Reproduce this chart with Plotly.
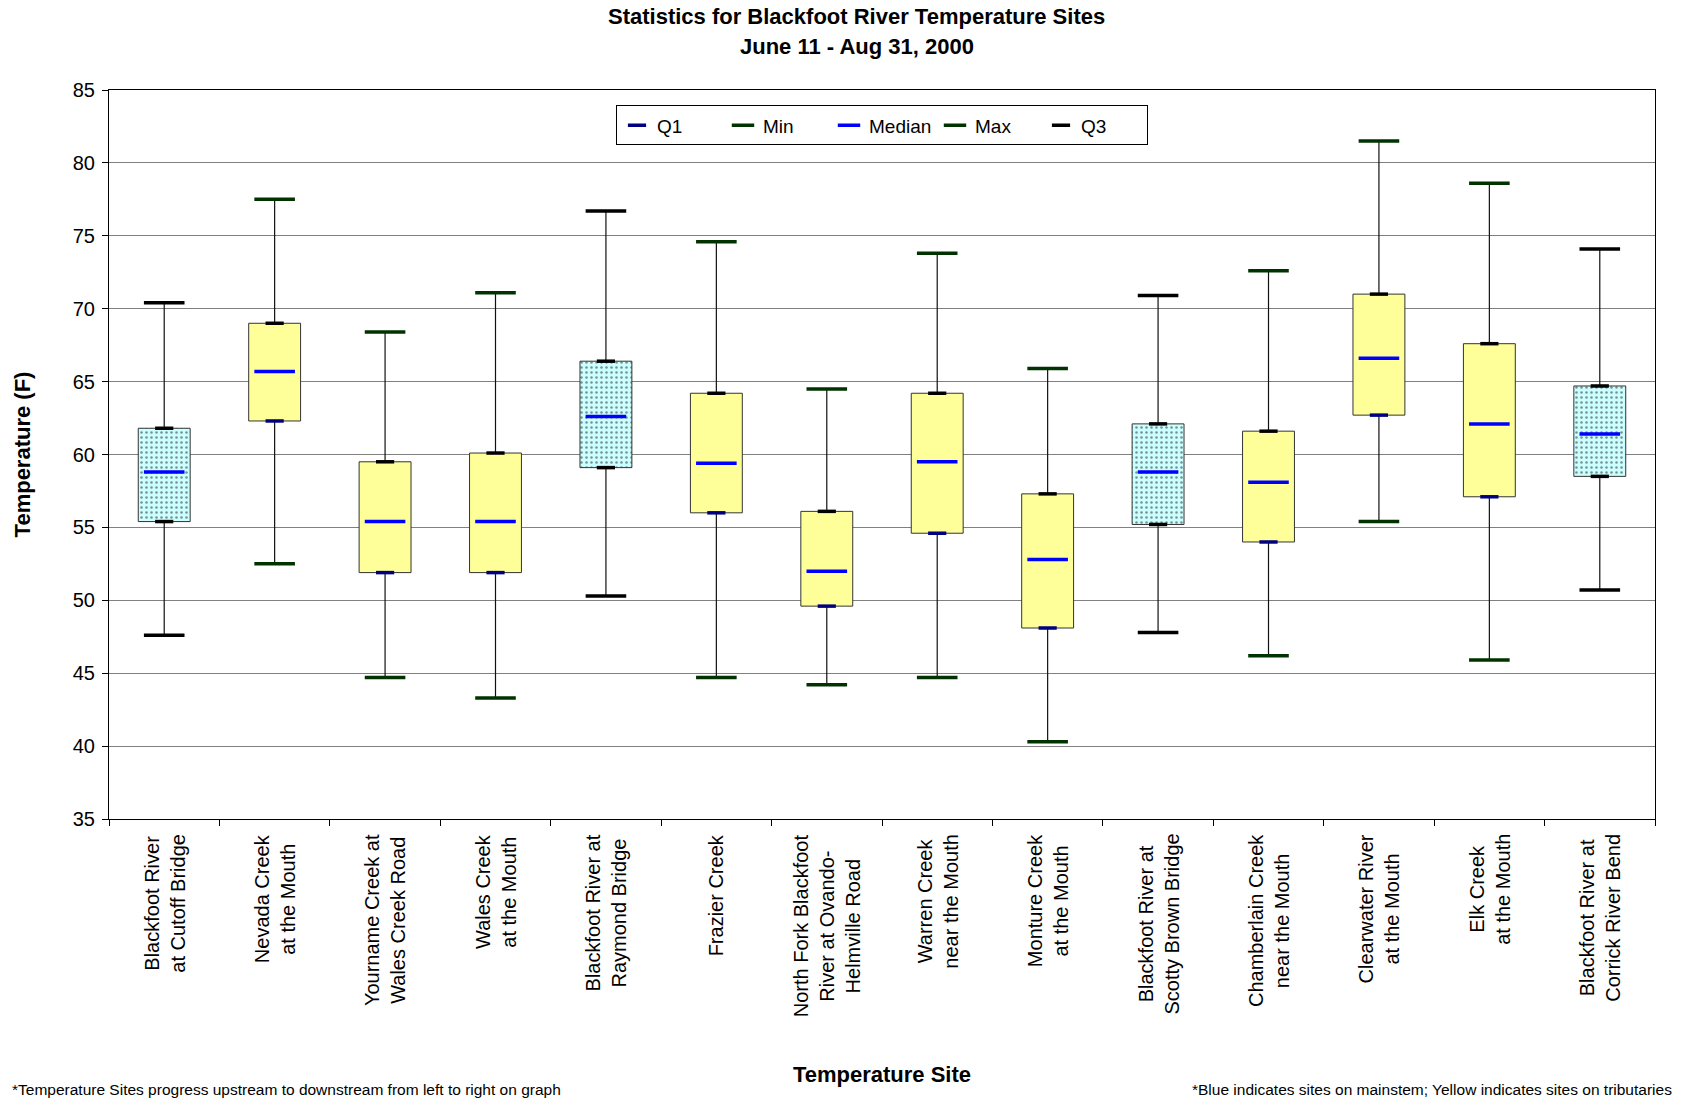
import plotly.graph_objects as go

# ---------------- data ----------------
sites = [
    "Blackfoot River<br>at Cutoff Bridge",
    "Nevada Creek<br>at the Mouth",
    "Yourname Creek at<br>Wales Creek Road",
    "Wales Creek<br>at the Mouth",
    "Blackfoot River at<br>Raymond Bridge",
    "Frazier Creek",
    "North Fork Blackfoot<br>River at Ovando-<br>Helmville Road",
    "Warren Creek<br>near the Mouth",
    "Monture Creek<br>at the Mouth",
    "Blackfoot River at<br>Scotty Brown Bridge",
    "Chamberlain Creek<br>near the Mouth",
    "Clearwater River<br>at the Mouth",
    "Elk Creek<br>at the Mouth",
    "Blackfoot River at<br>Corrick River Bend",
]
mainstem = [True, False, False, False, True, False, False, False, False, True, False, False, False, True]

q1_vals     = [55.4, 62.3, 51.9, 51.9, 59.1, 56.0, 49.6, 54.6, 48.1, 55.2, 54.0, 62.7, 57.1, 58.5]
min_vals    = [47.6, 52.5, 44.7, 43.3, 50.3, 44.7, 44.2, 44.7, 40.3, 47.8, 46.2, 55.4, 45.9, 50.7]
median_vals = [58.8, 65.7, 55.4, 55.4, 62.6, 59.4, 52.0, 59.5, 52.8, 58.8, 58.1, 66.6, 62.1, 61.4]
max_vals    = [70.4, 77.5, 68.4, 71.1, 76.7, 74.6, 64.5, 73.8, 65.9, 70.9, 72.6, 81.5, 78.6, 74.1]
q3_vals     = [61.8, 69.0, 59.5, 60.1, 66.4, 64.2, 56.1, 64.2, 57.3, 62.1, 61.6, 71.0, 67.6, 64.7]

y_ticks = [35, 40, 45, 50, 55, 60, 65, 70, 75, 80, 85]

title_text = "Statistics for Blackfoot River Temperature Sites"
subtitle_text = "June 11 - Aug 31, 2000"
x_title = "Temperature Site"
y_title = "Temperature (F)"
note_left = "*Temperature Sites progress upstream to downstream from left to right on graph"
note_right = "*Blue indicates sites on mainstem; Yellow indicates sites on tributaries"

# ---------------- styles ----------------
FONT = "Liberation Sans, Arial, sans-serif"
NAVY = "#000080"
DKGREEN = "#003300"
BLUE = "#0000FF"
BLACK = "#000000"

fig = go.Figure()

# whiskers (min->Q1 and Q3->max)
wx, wy = [], []
for s, lo, b, t, hi in zip(sites, min_vals, q1_vals, q3_vals, max_vals):
    wx += [s, s, None, s, s, None]
    wy += [lo, b, None, t, hi, None]
fig.add_trace(go.Scatter(x=wx, y=wy, mode="lines", line=dict(color="#111111", width=1.2),
                         showlegend=False, hoverinfo="skip"))

# boxes
for is_main in (True, False):
    idx = [i for i in range(len(sites)) if mainstem[i] == is_main]
    if is_main:
        marker = dict(color="#CCFFFF", line=dict(color="#333333", width=1),
                      pattern=dict(shape=".", fgcolor="#222222", bgcolor="#CCFFFF",
                                   size=5, solidity=0.2, fillmode="overlay"))
    else:
        marker = dict(color="#FFFF99", line=dict(color="#333333", width=1))
    fig.add_trace(go.Bar(
        x=[sites[i] for i in idx],
        y=[q3_vals[i] - q1_vals[i] for i in idx],
        base=[q1_vals[i] for i in idx],
        width=0.47, marker=marker, showlegend=False, hoverinfo="skip",
    ))

# statistic markers
stats = [
    ("Q1", q1_vals, NAVY, 13),
    ("Min", min_vals, DKGREEN, 29),
    ("Median", median_vals, BLUE, 29),
    ("Max", max_vals, DKGREEN, 29),
    ("Q3", q3_vals, BLACK, 13),
]
for name, vals, color, size in stats:
    trib = [i for i in range(len(sites)) if not mainstem[i]]
    main = [i for i in range(len(sites)) if mainstem[i]]
    fig.add_trace(go.Scatter(
        x=[sites[i] for i in trib], y=[vals[i] for i in trib], mode="markers", name=name,
        legendgroup=name,
        marker=dict(symbol="line-ew", size=size, color=color, line=dict(color=color, width=3.5)),
    ))
    mcol = BLUE if name == "Median" else BLACK
    fig.add_trace(go.Scatter(
        x=[sites[i] for i in main], y=[vals[i] for i in main], mode="markers", name=name,
        legendgroup=name, showlegend=False,
        marker=dict(symbol="line-ew", size=size, color=mcol, line=dict(color=mcol, width=3.5)),
    ))

# category labels (centered multi-line, rotated)
for s in sites:
    fig.add_annotation(x=s, xref="x", y=0, yref="paper", yshift=-13, text=s,
                       textangle=-90, xanchor="center", yanchor="top", align="center",
                       showarrow=False, font=dict(size=20, family=FONT, color="black"))

# title lines
fig.add_annotation(x=0.4838, xref="paper", y=1.1007, yref="paper", text=f"<b>{title_text}</b>",
                   xanchor="center", yanchor="middle", showarrow=False,
                   font=dict(size=22, family=FONT, color="black"))
fig.add_annotation(x=0.4838, xref="paper", y=1.0595, yref="paper", text=f"<b>{subtitle_text}</b>",
                   xanchor="center", yanchor="middle", showarrow=False,
                   font=dict(size=22, family=FONT, color="black"))

# footnotes
fig.add_annotation(x=-0.064, xref="paper", y=-0.371, yref="paper", text=note_left,
                   xanchor="left", yanchor="middle", showarrow=False,
                   font=dict(size=15.5, family=FONT, color="black"))
fig.add_annotation(x=1.012, xref="paper", y=-0.371, yref="paper", text=note_right,
                   xanchor="right", yanchor="middle", showarrow=False,
                   font=dict(size=15.5, family=FONT, color="black"))

fig.update_layout(
    width=1686, height=1101,
    margin=dict(l=109, r=31, t=90, b=282, autoexpand=False),
    plot_bgcolor="white", paper_bgcolor="white",
    font=dict(family=FONT, color="black"),
    barmode="overlay",
    legend=dict(orientation="h", x=0.5, xanchor="center", y=0.979, yanchor="top",
                bordercolor="black", borderwidth=1, bgcolor="white",
                font=dict(size=19, family=FONT, color="black"),
                entrywidth=61, traceorder="normal"),
    xaxis=dict(type="category", categoryorder="array", categoryarray=sites,
               range=[-0.5, len(sites) - 0.5], showticklabels=False,
               ticks="outside", tickson="boundaries", ticklen=6, tickcolor="black",
               showline=True, linecolor="black", linewidth=1, mirror=True, showgrid=False,
               title=dict(text=f"<b>{x_title}</b>", font=dict(size=22, family=FONT), standoff=247)),
    yaxis=dict(range=[35, 85], tickvals=y_ticks, ticks="outside", ticklen=6, tickcolor="black",
               showline=True, linecolor="black", linewidth=1, mirror=True,
               showgrid=True, gridcolor="#808080", gridwidth=1, zeroline=False,
               tickfont=dict(size=20, family=FONT), ticklabelstandoff=3,
               title=dict(text=f"<b>{y_title}</b>", font=dict(size=22, family=FONT), standoff=36)),
)

fig.write_html("out.html", config={"displayModeBar": False},
               post_script="document.body.style.margin='0';")
